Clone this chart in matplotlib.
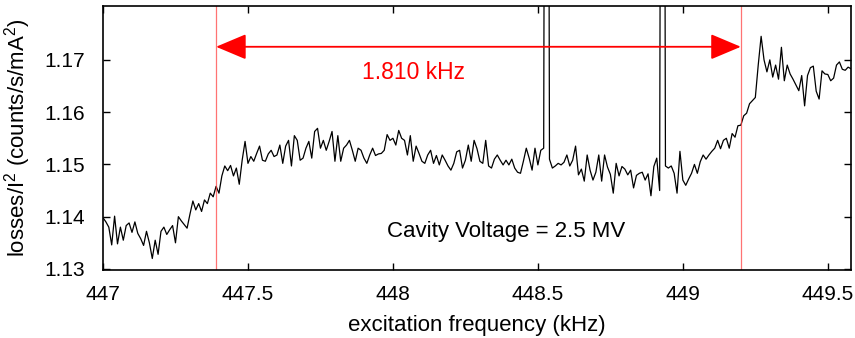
import numpy as np
import matplotlib
matplotlib.use('Agg')
import matplotlib.pyplot as plt

plt.rcParams['font.family'] = ['Liberation Sans', 'DejaVu Sans']
plt.rcParams['mathtext.fontset'] = 'custom'
plt.rcParams['mathtext.rm'] = 'Liberation Sans'
plt.rcParams['mathtext.it'] = 'Liberation Sans'

# ---- data ----
freq_start = 447.00   # kHz, first sample of the sweep
freq_step = 0.01      # kHz between samples

# losses / I^2 (counts/s/mA^2); the two 1.4000 values are off-scale spikes
losses = [
    1.1398, 1.1390, 1.1380, 1.1346, 1.1401, 1.1348, 1.1380, 1.1355, 1.1383, 1.1388,
    1.1370, 1.1390, 1.1368, 1.1358, 1.1345, 1.1372, 1.1350, 1.1320, 1.1355, 1.1328,
    1.1372, 1.1380, 1.1366, 1.1375, 1.1383, 1.1350, 1.1400, 1.1392, 1.1385, 1.1378,
    1.1405, 1.1430, 1.1413, 1.1425, 1.1410, 1.1432, 1.1425, 1.1445, 1.1438, 1.1458,
    1.1445, 1.1478, 1.1497, 1.1488, 1.1498, 1.1478, 1.1493, 1.1462, 1.1508, 1.1544,
    1.1502, 1.1515, 1.1506, 1.1521, 1.1535, 1.1508, 1.1506, 1.1520, 1.1527, 1.1515,
    1.1518, 1.1537, 1.1502, 1.1535, 1.1546, 1.1497, 1.1555, 1.1546, 1.1508, 1.1512,
    1.1531, 1.1544, 1.1512, 1.1563, 1.1569, 1.1531, 1.1546, 1.1527, 1.1544, 1.1563,
    1.1506, 1.1555, 1.1506, 1.1531, 1.1537, 1.1546, 1.1527, 1.1506, 1.1531, 1.1527,
    1.1512, 1.1502, 1.1518, 1.1531, 1.1517, 1.1520, 1.1521, 1.1527, 1.1557, 1.1546,
    1.1550, 1.1537, 1.1565, 1.1550, 1.1546, 1.1518, 1.1555, 1.1506, 1.1535, 1.1521,
    1.1506, 1.1502, 1.1518, 1.1527, 1.1502, 1.1517, 1.1499, 1.1518, 1.1508, 1.1497,
    1.1489, 1.1502, 1.1524, 1.1527, 1.1493, 1.1508, 1.1537, 1.1506, 1.1546, 1.1530,
    1.1506, 1.1502, 1.1546, 1.1497, 1.1493, 1.1510, 1.1518, 1.1508, 1.1499, 1.1508,
    1.1499, 1.1510, 1.1493, 1.1485, 1.1483, 1.1506, 1.1531, 1.1512, 1.1489, 1.1531,
    1.1499, 1.1527, 1.1531, 1.4000, 1.1510, 1.1493, 1.1497, 1.1502, 1.1499, 1.1504,
    1.1518, 1.1497, 1.1508, 1.1535, 1.1480, 1.1491, 1.1468, 1.1518, 1.1489, 1.1470,
    1.1485, 1.1518, 1.1468, 1.1518, 1.1495, 1.1481, 1.1445, 1.1502, 1.1478, 1.1496,
    1.1491, 1.1480, 1.1489, 1.1455, 1.1479, 1.1483, 1.1485, 1.1470, 1.1482, 1.1440,
    1.1496, 1.1512, 1.1450, 1.4000, 1.1497, 1.1493, 1.1497, 1.1483, 1.1445, 1.1525,
    1.1470, 1.1460, 1.1472, 1.1483, 1.1500, 1.1483, 1.1505, 1.1518, 1.1510, 1.1518,
    1.1525, 1.1531, 1.1546, 1.1530, 1.1546, 1.1550, 1.1531, 1.1559, 1.1552, 1.1574,
    1.1575, 1.1593, 1.1598, 1.1616, 1.1622, 1.1628, 1.1690, 1.1745, 1.1700, 1.1677,
    1.1700, 1.1667, 1.1690, 1.1663, 1.1724, 1.1660, 1.1690, 1.1673, 1.1663, 1.1652,
    1.1641, 1.1670, 1.1612, 1.1670, 1.1685, 1.1688, 1.1640, 1.1625, 1.1679, 1.1673,
    1.1672, 1.1660, 1.1665, 1.1690, 1.1696, 1.1682, 1.1680, 1.1686, 1.1683,
]

edge_freqs = [447.39, 449.20]      # red marker lines (kHz)
arrow_level = 1.1725
width_label = '1.810 kHz'
voltage_label = 'Cavity Voltage = 2.5 MV'

xtick_values = [447.0, 447.5, 448.0, 448.5, 449.0, 449.5]
xtick_labels = ['447', '447.5', '448', '448.5', '449', '449.5']
ytick_values = [1.13, 1.14, 1.15, 1.16, 1.17]
ytick_labels = ['1.13', '1.14', '1.15', '1.16', '1.17']

freqs = freq_start + freq_step * np.arange(len(losses))

# ---- figure ----
fig = plt.figure(figsize=(8.55, 3.38), dpi=100)
ax = fig.add_axes([103 / 855, 68 / 338, 748 / 855, 264 / 338])

ax.plot(freqs, losses, color='black', lw=0.9)

for xf in edge_freqs:
    ax.axvline(xf, color='#ff4444', lw=0.9, alpha=0.75)

ax.annotate('', xy=(edge_freqs[1], arrow_level), xytext=(edge_freqs[0], arrow_level),
            arrowprops=dict(arrowstyle='<|-|>,head_length=0.95,head_width=0.4',
                            color='red', lw=1.3, mutation_scale=20,
                            shrinkA=0, shrinkB=0))
ax.text(448.07, 1.1676, width_label, color='red', fontsize=16.5,
        ha='center', va='center')
ax.text(448.39, 1.1371, voltage_label, color='black', fontsize=16,
        ha='center', va='center')

ax.set_xlim(447.0, 449.58)
ax.set_ylim(1.1298, 1.1803)
ax.set_xticks(xtick_values)
ax.set_xticklabels(xtick_labels)
ax.set_yticks(ytick_values)
ax.set_yticklabels(ytick_labels)
ax.tick_params(direction='in', top=True, right=True, length=5, width=1,
               labelsize=15)
ax.tick_params(axis='x', pad=11)
ax.tick_params(axis='y', pad=13)
for sp in ax.spines.values():
    sp.set_linewidth(1.2)

ax.set_xlabel('excitation frequency (kHz)', fontsize=16, labelpad=8)
ax.set_ylabel(r'losses/I$^2$ (counts/s/mA$^2$)', fontsize=16, labelpad=8)

fig.savefig('out.png', dpi=100)
